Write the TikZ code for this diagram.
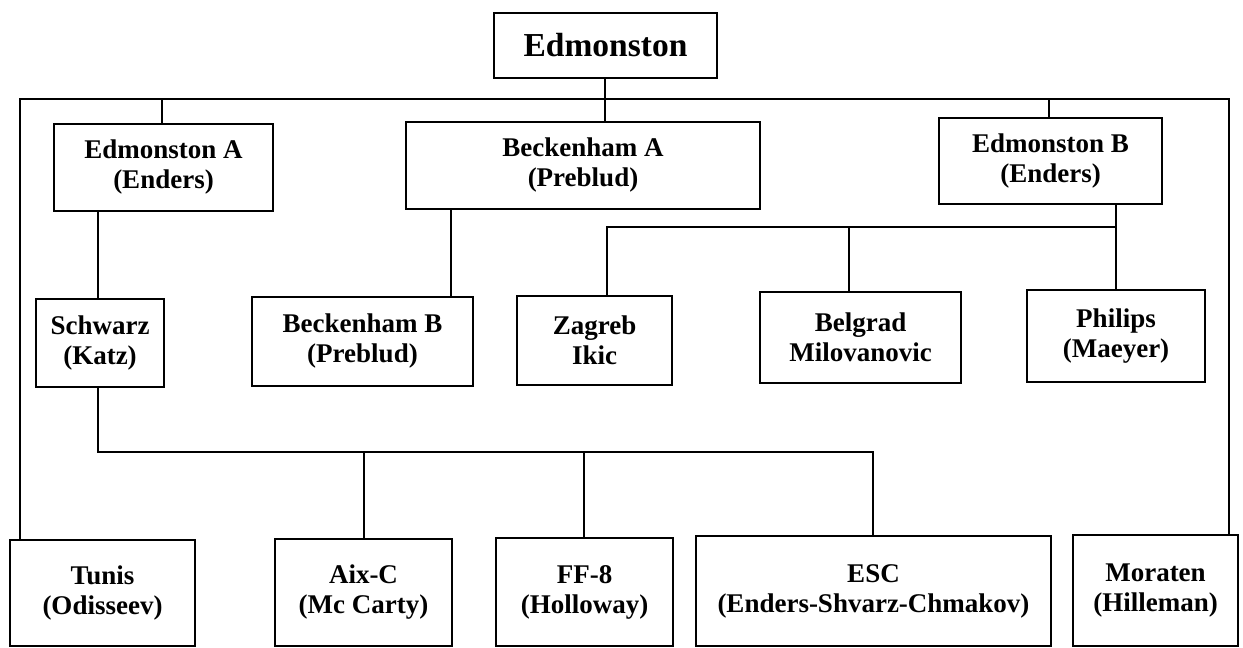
\documentclass[tikz,border=0pt]{standalone}
\usepackage{fontspec}
\setmainfont{Liberation Serif}
\begin{document}
\begin{tikzpicture}[x=1pt,y=-1pt,
  box/.style={draw, line width=1.4pt, align=center, inner sep=0pt,
    font=\fontsize{27}{30}\selectfont\bfseries},
  link/.style={line width=1.4pt}]
\useasboundingbox (0,0) rectangle (1243,648);
% level 0
\node[box, minimum width=223pt, minimum height=65pt,
  font=\fontsize{33.5}{36}\selectfont\bfseries] (edm) at (605.5,45.5) {Edmonston};
% level 1
\node[box, minimum width=219pt, minimum height=87pt] (edmA) at (163.5,167.5) {Edmonston A\\(Enders)};
\node[box, minimum width=354pt, minimum height=87pt] (beckA) at (583,165.5) {Beckenham A\\(Preblud)};
\node[box, minimum width=223pt, minimum height=86pt] (edmB) at (1050.5,161) {Edmonston B\\(Enders)};
% level 2
\node[box, minimum width=128pt, minimum height=88pt] (schwarz) at (100,343) {Schwarz\\(Katz)};
\node[box, minimum width=221pt, minimum height=89pt] (beckB) at (362.5,341.5) {Beckenham B\\(Preblud)};
\node[box, minimum width=155pt, minimum height=89pt] (zagreb) at (594.5,340.5) {Zagreb\\Ikic};
\node[box, minimum width=201pt, minimum height=91pt] (belgrad) at (860.5,337.5) {Belgrad\\Milovanovic};
\node[box, minimum width=178pt, minimum height=92pt] (philips) at (1116,336) {Philips\\(Maeyer)};
% level 3
\node[box, minimum width=185pt, minimum height=106pt] (tunis) at (102.5,593) {Tunis\\(Odisseev)};
\node[box, minimum width=177pt, minimum height=107pt] (aixc) at (363.5,592.5) {Aix-C\\(Mc Carty)};
\node[box, minimum width=177pt, minimum height=108pt] (ff8) at (584.5,592) {FF-8\\(Holloway)};
\node[box, minimum width=355pt, minimum height=110pt] (esc) at (873.5,591) {ESC\\(Enders-Shvarz-Chmakov)};
\node[box, minimum width=165pt, minimum height=111pt] (moraten) at (1155.5,590.5) {Moraten\\(Hilleman)};
% bus coordinates
\coordinate (busL) at (20,99);
\coordinate (busR) at (1229,99);
\coordinate (bA) at (162,99);
\coordinate (bB) at (1049,99);
\coordinate (bE) at (605,99);
\coordinate (sL) at (98,452);
\coordinate (sR) at (873,452);
\coordinate (eL) at (607,227);
\coordinate (eR) at (1116,227);
\coordinate (eM) at (849,227);
\coordinate (aC) at (364,452);
\coordinate (fC) at (584,452);
\coordinate (kA) at (451,250);
% top bus
\draw[link] (tunis.north -| busL) -- (busL) -- (busR) -- (moraten.north -| busR);
\draw[link] (edm.south -| bE) -- (beckA.north -| bE);
\draw[link] (bA) -- (edmA.north -| bA);
\draw[link] (bB) -- (edmB.north -| bB);
% Edmonston A -> Schwarz -> bottom
\draw[link] (edmA.south -| sL) -- (schwarz.north -| sL);
\draw[link] (schwarz.south -| sL) -- (sL) -- (sR) -- (esc.north -| sR);
\draw[link] (aC) -- (aixc.north -| aC);
\draw[link] (fC) -- (ff8.north -| fC);
% Beckenham A -> B
\draw[link] (beckA.south -| kA) -- (beckB.north -| kA);
% Edmonston B -> children
\draw[link] (edmB.south -| eR) -- (eR) -- (philips.north -| eR);
\draw[link] (eR) -- (eL) -- (zagreb.north -| eL);
\draw[link] (eM) -- (belgrad.north -| eM);
\end{tikzpicture}
\end{document}
